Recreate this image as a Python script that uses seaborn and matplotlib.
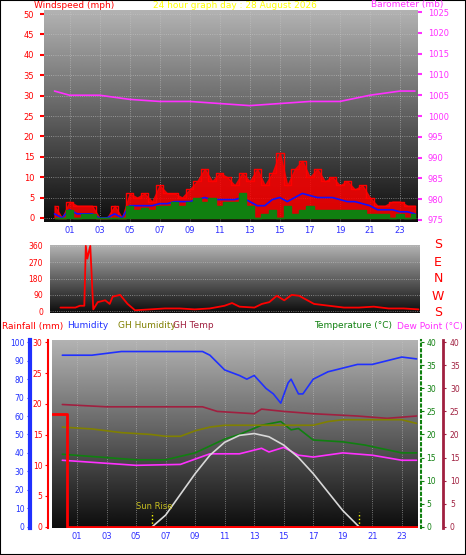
import numpy as np
import pandas as pd
import matplotlib
matplotlib.use("Agg")
import matplotlib.pyplot as plt
import seaborn as sns

sns.set_style("white")
plt.rcParams['font.family'] = ['DejaVu Sans']
plt.rcParams['font.size'] = 6

# ---------------- data ----------------
wind_hours = [i * 0.5 for i in range(49)]
gust = [3,0,4,3,3,3,0,0,3,0,6,5,6,4,8,6,6,5,7,9,12,9,11,10,8,11,9,12,8,11,16,8,12,14,10,12,9,10,8,9,7,8,5,3,3,4,4,3,3]
avg_wind = [1,0,2,1,1,1,0,0,1,0,3,3,3,3,3.5,3.5,4,4,4,4.5,5,4.5,4.5,4.5,4.5,5,4,3,3,4.5,5,4,5,6,5.5,5,5,5,4.5,4,4,3.5,3,2,2,2,1.5,1.5,1]
lull = [0,0,2,0,1,1,0,0,0,0,3,2,2.5,2,3,3,4,3,4,5,4,5,3,4,4,6,3,0,1,2,0,3,1,2,3,2,2,2,2,2,2,2,1,1,1,0,1,0,1]

baro_hours = [0,1,3,5,7,9,11,13,15,17,19,21,23,24]
baro = [1006,1005,1005,1004,1003.5,1003.5,1003,1002.5,1003,1003.5,1003.5,1005,1006,1006]

dir_hours = [0,1,1.3,1.6,1.7,1.8,2.0,2.2,2.5,3,3.3,3.5,4,4.5,5,6,7,8,9,10,11,11.5,12,13,13.5,14,14.5,15,15.5,16,17,18,19,20,21,22,23,24]
wind_dir = [20,20,30,30,360,290,360,10,50,60,40,80,90,40,5,10,15,15,10,15,30,45,25,20,40,50,85,60,90,85,40,30,20,20,25,15,15,10]

hum_hours = [0,2,3,4,9.5,10,11,12,12.5,13,13.8,14.3,14.8,15.3,15.5,16,16.3,17,18,19,20,21,22,23,24]
humidity = [93,93,94,95,95,93,85,82,80,82,75,72,67,78,80,72,72,80,84,86,88,88,90,92,91]

gh_hours = [0,3,9.5,10.5,13,13.5,15,17,20,22,24]
gh_temp = [26.5,26,26,25,24.5,25.5,25,24.5,24,23.5,24]

ghh_hours = [0,2,4,6,7,8,9,10,11,13,15,17,18,19,21,23,24]
gh_hum = [54,53,51,50,49,49,52,54,55,55,55,55,57,58,58,58,56]

temp_hours = [0,5,7,9,10,11,12,13.5,14.8,15.5,16,17,19,20.5,23,24]
temperature = [15.7,14.5,14.5,16,17.5,19,20,22,22.8,21,21.3,18.8,18.4,17.7,16,16]

dew_hours = [0,5,8,10,12,13.5,14,15,16,17,19,21,23,24]
dew_point = [14.4,13.3,13.5,15.8,15.8,17,16.2,17.2,15.5,15.1,16,15.5,14.4,14.4]

rain_hours = [-0.7,0.3,0.3,24]
rainfall = [18.3,18.3,0,0]

sun_hours = [6.1,7,8,9,10,11,12,13,14,15,16,17,18,19,20,20.1]
solar = [0,2.5,7,11.5,15.5,18.3,19.8,20.2,19.5,17.7,15,11.5,7.5,3.5,0.3,0]

tick_hours = list(range(1, 24, 2))
tick_labels = [f"{h:02d}" for h in tick_hours]

# ---------------- figure ----------------
W, H = 466, 555
fig = plt.figure(figsize=(W/100, H/100), dpi=100, facecolor='white')
PT = 0.72  # points per pixel

def rect(x0, y0, x1, y1):
    return [x0/W, 1 - y1/H, (x1-x0)/W, (y1-y0)/H]

grad = np.linspace(0.70, 0.05, 256).reshape(-1, 1)

def background(ax):
    ax.imshow(grad, cmap='gray', vmin=0, vmax=1, aspect='auto',
              extent=[0, 1, 0, 1], transform=ax.transAxes, zorder=0)
    ax.grid(True, color='#c8c8c8', linestyle=':', linewidth=0.6, alpha=0.7)
    ax.set_axisbelow(True)
    for s in ax.spines.values():
        s.set_visible(False)

def xaxis(ax):
    ax.set_xticks(tick_hours)
    ax.set_xticklabels(tick_labels, color='#3030ff', fontsize=6)
    ax.tick_params(axis='x', length=0, pad=3)

def line(ax, x, y, **kw):
    sns.lineplot(x=x, y=y, ax=ax, sort=False, estimator=None, **kw)

# ---- panel 1: wind ----
ax1 = fig.add_axes(rect(44, 10, 418, 222))
background(ax1)
ax1.fill_between(wind_hours, 0, gust, color='red', alpha=0.85, zorder=2)
line(ax1, wind_hours, gust, color='red', lw=1, drawstyle='steps-mid', zorder=2)
line(ax1, wind_hours, avg_wind, color='#1010ff', lw=1.2, zorder=3)
ax1.fill_between(wind_hours, 0, lull, color='#108010', step='mid', zorder=4)
ax1.set_xlim(-0.7, 24.2)
ax1.set_ylim(-1, 51)
ax1.set_yticks(range(0, 51, 5))
ax1.tick_params(axis='y', colors='red', labelsize=6, length=3, width=1.5, pad=4)
ax1.set_xlabel(''); ax1.set_ylabel('')
xaxis(ax1)
ax1b = ax1.twinx()
line(ax1b, baro_hours, baro, color='#ff30ff', lw=1.2)
ax1b.set_ylim(974.5, 1025.5)
ax1b.set_yticks(range(975, 1026, 5))
ax1b.tick_params(axis='y', colors='#ff30ff', labelsize=6, length=3, width=1.5, pad=4)
for s in ax1b.spines.values():
    s.set_visible(False)
fig.text(34/W, 1-6/H, 'Windspeed (mph)', color='red', fontsize=6.5, va='center')
fig.text(235/W, 1-5/H, '24 hour graph day : 28 August 2026', color='yellow', fontsize=6.5, va='center', ha='center')
fig.text(443/W, 1-5/H, 'Barometer (mb)', color='#ff30ff', fontsize=6.5, va='center', ha='right')

# ---- panel 2: direction ----
ax2 = fig.add_axes(rect(50, 245, 420, 313))
background(ax2)
line(ax2, dir_hours, wind_dir, color='red', lw=1.3, zorder=3)
ax2.set_xlim(-0.7, 24.1)
ax2.set_ylim(-10, 365)
ax2.set_yticks([0, 90, 180, 270, 360])
ax2.set_yticklabels(['0', '90', '180', '270', '360'])
ax2.tick_params(axis='y', colors='red', labelsize=5.5, length=2, width=1.5, pad=3)
ax2.set_xticks([])
for i, c in enumerate(['S', 'E', 'N', 'W', 'S']):
    fig.text(438/W, 1-(245 + i*17)/H, c, color='red', fontsize=9, ha='center', va='center')

# ---- panel 3: temp etc ----
ax3 = fig.add_axes(rect(52, 340, 418, 528))
background(ax3)
ax3.set_xlim(-0.7, 24.1)
ax3.set_ylim(-0.3, 40.5)
ax3.set_yticks([])
xaxis(ax3)
line(ax3, gh_hours, gh_temp, color='#a02040', lw=1.2)
line(ax3, temp_hours, temperature, color='#108010', lw=1.2)
line(ax3, dew_hours, dew_point, color='#ff30ff', lw=1.2)
line(ax3, sun_hours, solar, color='#d8d8d8', lw=1.2)
for sx in [6.1, 20.1]:
    ax3.plot([sx, sx], [0, 3.2], color='yellow', ls=':', lw=1)
ax3.text(6.2, 3.3, 'Sun Rise', color='#c8c020', fontsize=6, ha='center', va='bottom')

axh = ax3.twinx()
line(axh, hum_hours, humidity, color='#2030ff', lw=1.2)
line(axh, ghh_hours, gh_hum, color='#808000', lw=1.2)
axh.set_ylim(-0.75, 101.25)
axh.yaxis.set_ticks_position('left'); axh.yaxis.set_label_position('left')
for s in ['top', 'bottom', 'right']:
    axh.spines[s].set_visible(False)
axh.spines['left'].set_position(('outward', 22*PT))
axh.spines['left'].set_color('#2030ff'); axh.spines['left'].set_linewidth(3)
axh.set_yticks(range(0, 101, 10))
axh.tick_params(axis='y', colors='#2030ff', labelsize=5.5, length=2, pad=2)

axr = ax3.twinx()
line(axr, rain_hours, rainfall, color='red', lw=2)
axr.plot([6.1, 20.1], [0, 0], color='red', lw=2)
axr.set_ylim(-0.23, 30.4)
axr.yaxis.set_ticks_position('left'); axr.yaxis.set_label_position('left')
for s in ['top', 'bottom', 'right']:
    axr.spines[s].set_visible(False)
axr.spines['left'].set_position(('outward', 4*PT))
axr.spines['left'].set_color('red'); axr.spines['left'].set_linewidth(1.5)
axr.set_yticks(range(0, 31, 5))
axr.tick_params(axis='y', colors='red', labelsize=5.5, length=2, pad=2)

axt = ax3.twinx()
axt.set_ylim(-0.3, 40.5)
for s in ['top', 'bottom', 'left']:
    axt.spines[s].set_visible(False)
axt.spines['right'].set_position(('outward', 3*PT))
axt.spines['right'].set_color('#108010'); axt.spines['right'].set_linestyle(':'); axt.spines['right'].set_linewidth(1.5)
axt.set_yticks(range(0, 41, 5))
axt.tick_params(axis='y', colors='#108010', labelsize=5.5, length=2, pad=2)

axg = ax3.twinx()
axg.set_ylim(-0.3, 40.5)
for s in ['top', 'bottom', 'left']:
    axg.spines[s].set_visible(False)
axg.spines['right'].set_position(('outward', 25*PT))
axg.spines['right'].set_color('#a02040'); axg.spines['right'].set_linewidth(2)
axg.set_yticks(range(0, 41, 5))
axg.tick_params(axis='y', colors='#a02040', labelsize=5.5, length=2, pad=3)
for a in [axh, axr, axt, axg]:
    a.set_xlabel(''); a.set_ylabel('')

hy = 1 - 326/H
fig.text(2/W, hy, 'Rainfall (mm)', color='red', fontsize=6.5, va='center')
fig.text(67/W, hy, 'Humidity', color='#2030ff', fontsize=6.5, va='center')
fig.text(118/W, hy, 'GH Humidity', color='#808000', fontsize=6.5, va='center')
fig.text(173/W, hy, 'GH Temp', color='#a02040', fontsize=6.5, va='center')
fig.text(392/W, hy, 'Temperature (°C)', color='#108010', fontsize=6.5, va='center', ha='right')
fig.text(463/W, hy, 'Dew Point (°C)', color='#ff30ff', fontsize=6.5, va='center', ha='right')

fig.patches.append(plt.Rectangle((0, 0), 1, 1, transform=fig.transFigure, fill=False, edgecolor='black', lw=1.5))
fig.savefig('out.png', dpi=100, facecolor='white')
